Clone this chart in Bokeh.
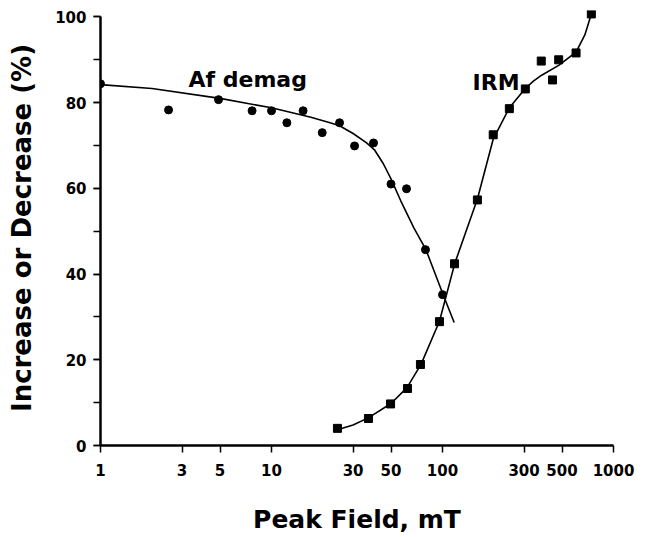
from bokeh.plotting import figure
from bokeh.models import Range1d, FixedTicker, SingleIntervalTicker
from bokeh.core.properties import value
from bokeh.embed import file_html
from bokeh.resources import INLINE

# Af demag measurements (circles)
af_x = [1, 2.5, 4.9, 7.7, 10, 12.3, 15.3, 19.8, 25, 30.6, 39.5, 50, 61.6, 79.5, 100]
af_y = [84.4, 78.3, 80.7, 78.1, 78.1, 75.3, 78.1, 73.0, 75.3, 69.9, 70.6, 61.0, 59.9, 45.7, 35.2]
# Af demag hand-drawn curve
af_fit_x = [1, 2, 5, 10, 17, 22, 25, 30, 36, 40, 45, 50, 57, 68, 80, 100, 117]
af_fit_y = [84.2, 83.3, 81.0, 78.8, 76.6, 75.3, 74.6, 72.8, 70.6, 69.0, 65.8, 62.2, 57.1, 50.8, 45.7, 35.6, 28.7]

# IRM acquisition (squares)
irm_x = [24.3, 36.9, 49.7, 62.4, 74.3, 96, 117.6, 160, 198, 246, 305, 378, 440, 478, 604, 742]
irm_y = [4.0, 6.3, 9.7, 13.3, 18.9, 28.9, 42.4, 57.3, 72.5, 78.6, 83.2, 89.7, 85.3, 90.0, 91.6, 100.7]
# IRM hand-drawn curve
irm_fit_x = [23.5, 30, 37, 50, 62, 75, 96, 118, 160, 198, 246, 305, 340, 380, 478, 604, 680, 742]
irm_fit_y = [3.5, 4.8, 6.5, 9.8, 13.5, 19.0, 29.0, 42.5, 57.5, 71.5, 78.8, 83.3, 85.0, 86.4, 88.7, 91.8, 95.8, 100.7]

x_ticks = [1, 3, 5, 10, 30, 50, 100, 300, 500, 1000]
x_tick_labels = ["1", "3", "5", "10", "30", "50", "100", "300", "500", "1000"]

FONT = "DejaVu Sans"

p = figure(width=639, height=536, x_axis_type="log",
           x_range=Range1d(1, 1000), y_range=Range1d(0, 101.5),
           output_backend="svg", toolbar_location=None,
           min_border_left=100, min_border_right=26,
           min_border_top=10, min_border_bottom=91)
p.outline_line_color = None
p.grid.visible = False
p.background_fill_color = "white"

p.line(af_fit_x, af_fit_y, line_color="black", line_width=1.6)
p.line(irm_fit_x, irm_fit_y, line_color="black", line_width=1.6)
p.scatter(af_x, af_y, marker="circle", size=8, fill_color="black", line_color="black")
p.scatter(irm_x, irm_y, marker="square", size=8, fill_color="black", line_color="black")

p.text(x=[3.27], y=[85.5], text=["Af demag"], text_font=value(FONT),
       text_font_size="22px", text_font_style="bold", text_baseline="alphabetic",
       text_align="left", text_color="black")
p.text(x=[150], y=[84.8], text=["IRM"], text_font=value(FONT),
       text_font_size="22px", text_font_style="bold", text_baseline="alphabetic",
       text_align="left", text_color="black")

# x axis
xa = p.xaxis[0]
xa.ticker = FixedTicker(ticks=x_ticks, minor_ticks=[])
xa.major_label_overrides = {t: l for t, l in zip(x_ticks, x_tick_labels)}
xa.axis_label = "Peak Field, mT"
xa.bounds = (1, 1000)

# y axis
ya = p.yaxis[0]
ya.ticker = SingleIntervalTicker(interval=20, num_minor_ticks=2)
ya.axis_label = "Increase or Decrease (%)"
ya.bounds = (0, 100)

for ax in (xa, ya):
    ax.axis_line_width = 2.5
    ax.axis_line_color = "black"
    ax.major_tick_line_width = 1.5
    ax.minor_tick_line_width = 1.5
    ax.major_tick_in = 0
    ax.major_tick_out = 7
    ax.minor_tick_in = 0
    ax.minor_tick_out = 7
    ax.major_label_text_font = FONT
    ax.major_label_text_font_style = "bold"
    ax.major_label_text_font_size = "15px"
    ax.major_label_text_color = "black"
    ax.axis_label_text_font = FONT
    ax.axis_label_text_font_style = "bold"
    ax.axis_label_text_color = "black"

xa.axis_label_text_font_size = "25px"
ya.axis_label_text_font_size = "26px"
xa.major_label_standoff = 11
xa.axis_label_standoff = 26
ya.major_label_standoff = 7
ya.axis_label_standoff = 15

open("out.html", "w").write(file_html(p, INLINE))
